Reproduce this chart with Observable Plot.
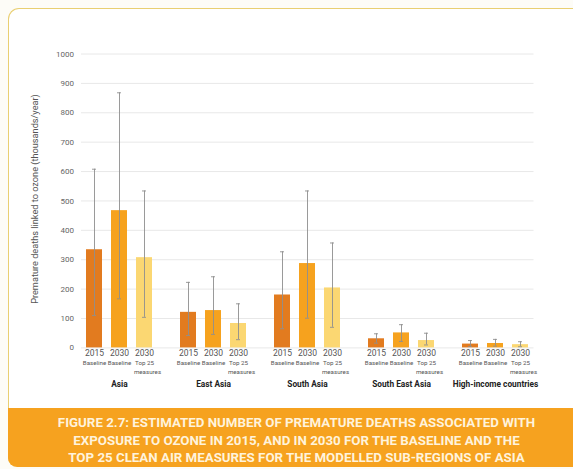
<!DOCTYPE html>
<html>
<head>
<meta charset="utf-8">
<script src="https://cdn.jsdelivr.net/npm/d3@7"></script>
<script src="https://cdn.jsdelivr.net/npm/@observablehq/plot@0.6"></script>
<style>
  html, body { margin: 0; padding: 0; background: #fdfcf7; }
  #page { position: relative; width: 573px; height: 469px; overflow: hidden; font-family: Roboto, sans-serif; }
  #card {
    position: absolute; left: 8px; top: 8px; width: 570px; height: 459px;
    background: #ffffff; border-top: 1px solid #e9cf72; border-left: 1px solid #e9cf72;
    border-radius: 11px 0 0 9px; box-sizing: border-box;
  }
  #chart { position: absolute; left: 0; top: 0; }
  #ylabel {
    position: absolute; left: 34px; top: 199px; white-space: nowrap;
    transform: translate(-50%, -50%) rotate(-90deg);
    font-size: 9.2px; color: #555;
  }
  #caption {
    position: absolute; left: 8px; top: 408px; width: 565px; height: 59px;
    background: #f6a21f; border-radius: 0 0 0 9px;
    color: #fff3dc; font-weight: 700; font-size: 13.3px; line-height: 17.5px;
    text-align: center; box-sizing: border-box; padding-top: 6px; padding-left: 12px;
  }
</style>
</head>
<body>
<div id="page">
  <div id="card"></div>
  <div id="chart"></div>
  <div id="ylabel">Premature deaths linked to ozone (thousands/year)</div>
  <div id="caption">FIGURE 2.7: ESTIMATED NUMBER OF PREMATURE DEATHS ASSOCIATED WITH<br>EXPOSURE TO OZONE IN 2015, AND IN 2030 FOR THE BASELINE AND THE<br>TOP 25 CLEAN AIR MEASURES FOR THE MODELLED SUB-REGIONS OF ASIA</div>
</div>
<script>
// Sub-regions and scenarios
const regions = ["Asia", "East Asia", "South Asia", "South East Asia", "High-income countries"];
const scenarios = ["2015 Baseline", "2030 Baseline", "2030 Top 25 measures"];
const scenarioYears = ["2015", "2030", "2030"];
const scenarioNames = ["Baseline", "Baseline", "Top 25"];
const scenarioNotes = ["", "", "measures"];
const scenarioColors = ["#e27b1f", "#f6a21e", "#fbd772"];

// Premature deaths linked to ozone (thousands/year), central estimates
const baseline2015 = [334, 121, 180, 31, 13];
const baseline2030 = [467, 127, 287, 51, 15];
const top25in2030 = [307, 83, 204, 25, 11];

// Uncertainty ranges (low / high)
const low2015 = [110, 42, 65, 16, 5];
const high2015 = [608, 223, 327, 48, 25];
const low2030 = [167, 46, 101, 22, 6];
const high2030 = [868, 242, 534, 79, 29];
const lowTop25 = [104, 28, 70, 10, 4];
const highTop25 = [534, 150, 357, 50, 21];

const yTicks = [0, 100, 200, 300, 400, 500, 600, 700, 800, 900, 1000];

const series = [
  {values: baseline2015, low: low2015, high: high2015},
  {values: baseline2030, low: low2030, high: high2030},
  {values: top25in2030, low: lowTop25, high: highTop25}
];

const rows = [];
regions.forEach((region, i) => {
  series.forEach((s, j) => {
    rows.push({
      region,
      scenario: scenarios[j],
      year: scenarioYears[j],
      name: scenarioNames[j],
      note: scenarioNotes[j],
      value: s.values[i],
      low: s.low[i],
      high: s.high[i]
    });
  });
});

// Horizontal grid, one set per region panel so the lines run continuously
const gridRows = regions.flatMap(region => yTicks.map(tick => ({region, tick})));
const first = regions[0], last = regions[regions.length - 1];
const gridStyle = {fx: "region", y: "tick", stroke: "#e8e8e8", strokeWidth: 1};

const chart = Plot.plot({
  width: 573,
  height: 400,
  marginTop: 53.5,
  marginBottom: 52.6,
  marginLeft: 71,
  marginRight: 29.5,
  style: {background: "transparent", fontFamily: "Roboto, sans-serif", overflow: "visible"},
  fx: {domain: regions, padding: 0, axis: null},
  x: {domain: scenarios, paddingInner: 0.37, paddingOuter: 0.54, axis: null},
  y: {domain: [0, 1000], axis: null},
  color: {domain: scenarios, range: scenarioColors},
  marks: [
    Plot.ruleY(gridRows.filter(d => d.region === first), {...gridStyle, insetLeft: 9}),
    Plot.ruleY(gridRows.filter(d => d.region !== first && d.region !== last), gridStyle),
    Plot.ruleY(gridRows.filter(d => d.region === last), {...gridStyle, insetRight: 8.5}),
    Plot.axisY(yTicks, {
      tickSize: 0, tickPadding: 0, dx: 1.5, fontSize: 8, color: "#666",
      tickFormat: d => String(d), label: null
    }),
    Plot.barY(rows, {fx: "region", x: "scenario", y: "value", fill: "scenario"}),
    Plot.ruleX(rows, {fx: "region", x: "scenario", y1: "low", y2: "high", stroke: "#8e8e8e", strokeWidth: 0.9}),
    Plot.tickY(rows, {fx: "region", x: "scenario", y: "high", stroke: "#8e8e8e", strokeWidth: 0.9, inset: 6}),
    Plot.tickY(rows, {fx: "region", x: "scenario", y: "low", stroke: "#8e8e8e", strokeWidth: 0.9, inset: 6}),
    Plot.text(rows, {fx: "region", x: "scenario", text: "year", frameAnchor: "bottom", dy: 8, fontSize: 8.5, fill: "#555"}),
    Plot.text(rows, {fx: "region", x: "scenario", text: "name", frameAnchor: "bottom", dy: 17, fontSize: 6.2, fill: "#555"}),
    Plot.text(rows, {fx: "region", x: "scenario", text: "note", frameAnchor: "bottom", dy: 26.5, dx: 3, fontSize: 6.2, fill: "#555"}),
    Plot.text(regions, {fx: d => d, text: d => d, frameAnchor: "bottom", dy: 39.5, fontSize: 8.3, fontWeight: "bold", fill: "#222"})
  ]
});

document.getElementById("chart").appendChild(chart);
</script>
</body>
</html>
